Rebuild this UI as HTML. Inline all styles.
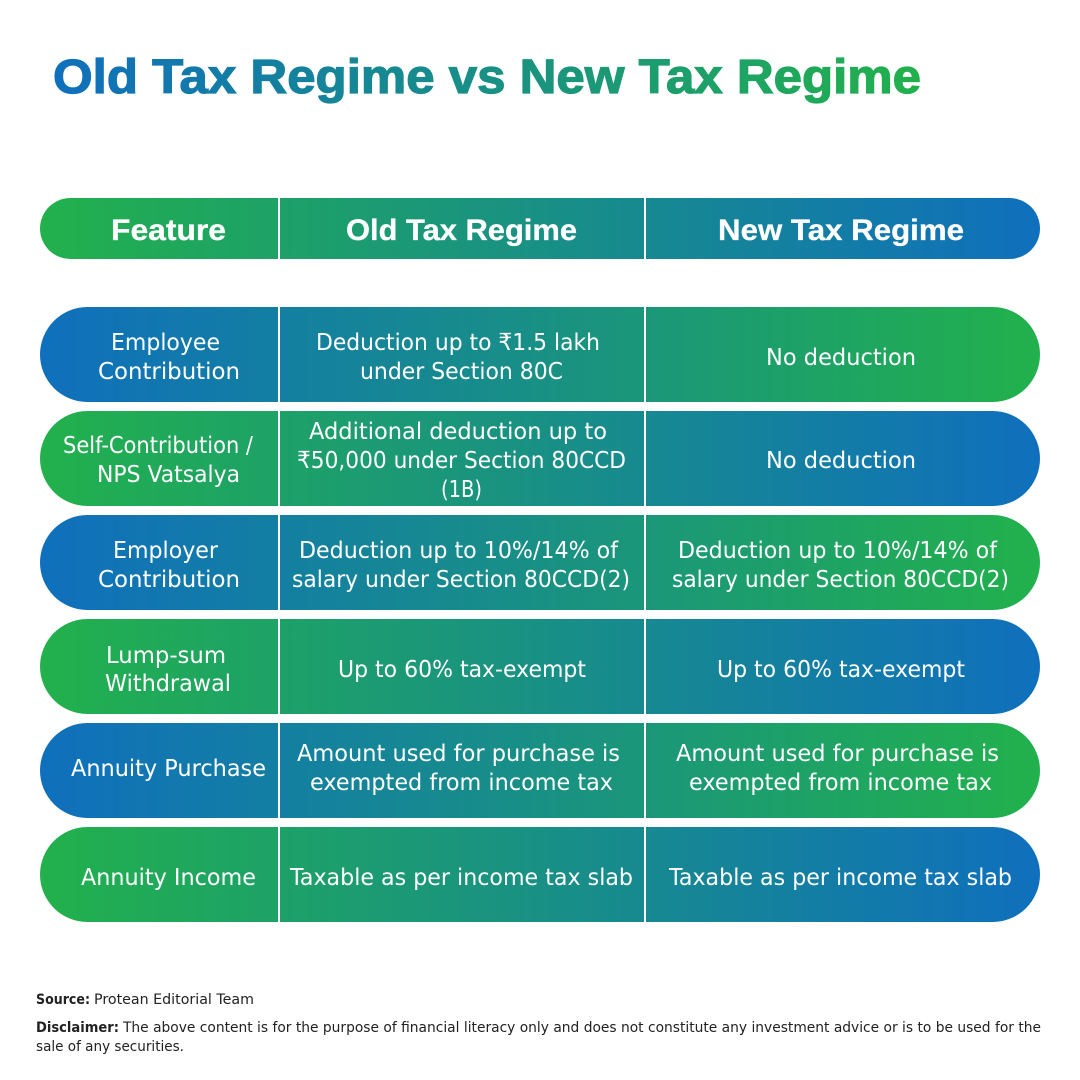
<!DOCTYPE html>
<html lang="en">
<head>
<meta charset="utf-8">
<title>Old Tax Regime vs New Tax Regime</title>
<style>
html,body{margin:0;padding:0;background:#fff;width:1080px;height:1080px;overflow:hidden}
svg{display:block}
text{font-family:"DejaVu Sans","Liberation Sans",sans-serif;}
.c{fill:#fff;font-size:23.5px;}
.h{fill:#fff;font-size:30px;font-weight:700;font-family:"Liberation Sans",sans-serif;stroke:#fff;stroke-width:.3px}
.f{fill:#222;font-size:14px;}
.b{font-weight:700}
.t{font-family:"Liberation Sans",sans-serif;font-size:48px;font-weight:700}
</style>
</head>
<body>
<svg width="1080" height="1080" viewBox="0 0 1080 1080" xmlns="http://www.w3.org/2000/svg">
<defs>
<linearGradient id="gt" gradientUnits="userSpaceOnUse" x1="52" y1="0" x2="922" y2="0"><stop offset="0" stop-color="#0f6fbd"/><stop offset="1" stop-color="#22b14c"/></linearGradient>
<linearGradient id="bg" gradientUnits="userSpaceOnUse" x1="40" y1="0" x2="1040" y2="0"><stop offset="0" stop-color="#0f6fbd"/><stop offset="1" stop-color="#22b14c"/></linearGradient>
<linearGradient id="gb" gradientUnits="userSpaceOnUse" x1="40" y1="0" x2="1040" y2="0"><stop offset="0" stop-color="#22b14c"/><stop offset="1" stop-color="#0f6fbd"/></linearGradient>
</defs>
<rect width="1080" height="1080" fill="#fff"/>

<text class="t" x="53" y="93" fill="url(#gt)" stroke="url(#gt)" stroke-width="1.2" textLength="868" lengthAdjust="spacingAndGlyphs">Old Tax Regime vs New Tax Regime</text>

<rect x="40" y="198" width="1000" height="61" rx="30.5" fill="url(#gb)"/>
<rect x="40" y="307" width="1000" height="95" rx="47.5" fill="url(#bg)"/>
<rect x="40" y="411" width="1000" height="95" rx="47.5" fill="url(#gb)"/>
<rect x="40" y="515" width="1000" height="95" rx="47.5" fill="url(#bg)"/>
<rect x="40" y="619" width="1000" height="95" rx="47.5" fill="url(#gb)"/>
<rect x="40" y="723" width="1000" height="95" rx="47.5" fill="url(#bg)"/>
<rect x="40" y="827" width="1000" height="95" rx="47.5" fill="url(#gb)"/>

<rect x="278" y="198" width="2" height="724" fill="#fff"/>
<rect x="644" y="198" width="2" height="724" fill="#fff"/>

<text class="h" x="111" y="240" textLength="115" lengthAdjust="spacingAndGlyphs">Feature</text>
<text class="h" x="346" y="240" textLength="231" lengthAdjust="spacingAndGlyphs">Old Tax Regime</text>
<text class="h" x="718" y="240" textLength="246" lengthAdjust="spacingAndGlyphs">New Tax Regime</text>

<text class="c" x="111" y="350" textLength="109" lengthAdjust="spacingAndGlyphs">Employee</text>
<text class="c" x="98" y="379" textLength="142" lengthAdjust="spacingAndGlyphs">Contribution</text>
<text class="c" x="316" y="350" textLength="284" lengthAdjust="spacingAndGlyphs">Deduction up to ₹1.5 lakh</text>
<text class="c" x="360" y="379" textLength="203" lengthAdjust="spacingAndGlyphs">under Section 80C</text>
<text class="c" x="766" y="365" textLength="150" lengthAdjust="spacingAndGlyphs">No deduction</text>

<text class="c" x="63" y="453" textLength="190" lengthAdjust="spacingAndGlyphs">Self-Contribution /</text>
<text class="c" x="97" y="482" textLength="143" lengthAdjust="spacingAndGlyphs">NPS Vatsalya</text>
<text class="c" x="309" y="439" textLength="298" lengthAdjust="spacingAndGlyphs">Additional deduction up to</text>
<text class="c" x="297" y="468" textLength="329" lengthAdjust="spacingAndGlyphs">₹50,000 under Section 80CCD</text>
<text class="c" x="441" y="497" textLength="41" lengthAdjust="spacingAndGlyphs">(1B)</text>
<text class="c" x="766" y="468" textLength="150" lengthAdjust="spacingAndGlyphs">No deduction</text>

<text class="c" x="113" y="558" textLength="105" lengthAdjust="spacingAndGlyphs">Employer</text>
<text class="c" x="98" y="587" textLength="142" lengthAdjust="spacingAndGlyphs">Contribution</text>
<text class="c" x="299" y="558" textLength="319" lengthAdjust="spacingAndGlyphs">Deduction up to 10%/14% of</text>
<text class="c" x="292" y="587" textLength="338" lengthAdjust="spacingAndGlyphs">salary under Section 80CCD(2)</text>
<text class="c" x="678" y="558" textLength="319" lengthAdjust="spacingAndGlyphs">Deduction up to 10%/14% of</text>
<text class="c" x="672" y="587" textLength="337" lengthAdjust="spacingAndGlyphs">salary under Section 80CCD(2)</text>

<text class="c" x="106" y="663" textLength="120" lengthAdjust="spacingAndGlyphs">Lump-sum</text>
<text class="c" x="105" y="691" textLength="126" lengthAdjust="spacingAndGlyphs">Withdrawal</text>
<text class="c" x="338" y="677" textLength="248" lengthAdjust="spacingAndGlyphs">Up to 60% tax-exempt</text>
<text class="c" x="717" y="677" textLength="248" lengthAdjust="spacingAndGlyphs">Up to 60% tax-exempt</text>

<text class="c" x="71" y="776" textLength="195" lengthAdjust="spacingAndGlyphs">Annuity Purchase</text>
<text class="c" x="297" y="761" textLength="323" lengthAdjust="spacingAndGlyphs">Amount used for purchase is</text>
<text class="c" x="310" y="790" textLength="303" lengthAdjust="spacingAndGlyphs">exempted from income tax</text>
<text class="c" x="676" y="761" textLength="323" lengthAdjust="spacingAndGlyphs">Amount used for purchase is</text>
<text class="c" x="689" y="790" textLength="303" lengthAdjust="spacingAndGlyphs">exempted from income tax</text>

<text class="c" x="81" y="885" textLength="175" lengthAdjust="spacingAndGlyphs">Annuity Income</text>
<text class="c" x="290" y="885" textLength="343" lengthAdjust="spacingAndGlyphs">Taxable as per income tax slab</text>
<text class="c" x="669" y="885" textLength="343" lengthAdjust="spacingAndGlyphs">Taxable as per income tax slab</text>

<text class="f b" x="36" y="1004" textLength="54" lengthAdjust="spacingAndGlyphs">Source:</text>
<text class="f" x="94" y="1004" textLength="160" lengthAdjust="spacingAndGlyphs">Protean Editorial Team</text>
<text class="f b" x="36" y="1032" textLength="83" lengthAdjust="spacingAndGlyphs">Disclaimer:</text>
<text class="f" x="123" y="1032" textLength="918" lengthAdjust="spacingAndGlyphs">The above content is for the purpose of financial literacy only and does not constitute any investment advice or is to be used for the</text>
<text class="f" x="36" y="1051" textLength="148" lengthAdjust="spacingAndGlyphs">sale of any securities.</text>
</svg>
</body>
</html>
